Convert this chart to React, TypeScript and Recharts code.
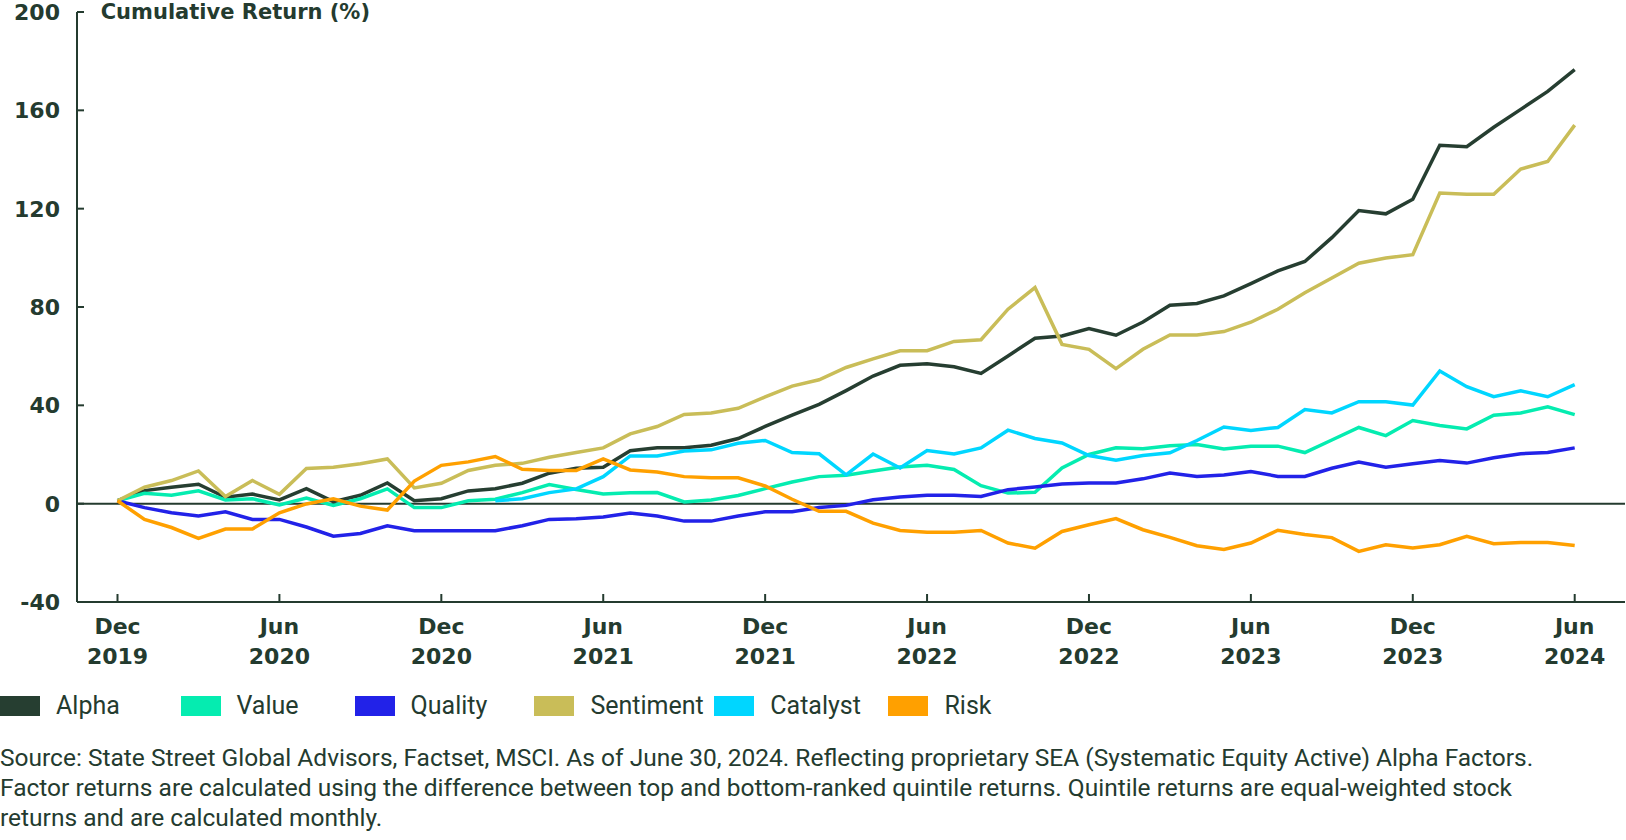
import { LineChart, Line, XAxis, YAxis, ReferenceLine } from 'recharts';

const INK = '#243b2f';

const MONTHS = [
  'Dec 2019',
  'Jan 2020', 'Feb 2020', 'Mar 2020', 'Apr 2020', 'May 2020', 'Jun 2020',
  'Jul 2020', 'Aug 2020', 'Sep 2020', 'Oct 2020', 'Nov 2020', 'Dec 2020',
  'Jan 2021', 'Feb 2021', 'Mar 2021', 'Apr 2021', 'May 2021', 'Jun 2021',
  'Jul 2021', 'Aug 2021', 'Sep 2021', 'Oct 2021', 'Nov 2021', 'Dec 2021',
  'Jan 2022', 'Feb 2022', 'Mar 2022', 'Apr 2022', 'May 2022', 'Jun 2022',
  'Jul 2022', 'Aug 2022', 'Sep 2022', 'Oct 2022', 'Nov 2022', 'Dec 2022',
  'Jan 2023', 'Feb 2023', 'Mar 2023', 'Apr 2023', 'May 2023', 'Jun 2023',
  'Jul 2023', 'Aug 2023', 'Sep 2023', 'Oct 2023', 'Nov 2023', 'Dec 2023',
  'Jan 2024', 'Feb 2024', 'Mar 2024', 'Apr 2024', 'May 2024', 'Jun 2024',
];

const ALPHA = [
  1.2, 5.3, 6.7, 7.9, 2.6, 3.9, 1.5, 6.1, 0.8, 3.4, 8.4, 1.2, 2.0,
  5.2, 6.1, 8.3, 12.4, 14.4, 14.8, 21.5, 22.7, 22.7, 23.8, 26.5, 31.4,
  36.0, 40.4, 46.0, 51.9, 56.3, 56.9, 55.7, 53.0, 60.1, 67.3, 68.2, 71.2,
  68.5, 73.9, 80.7, 81.4, 84.5, 89.5, 94.7, 98.5, 108.2, 119.2, 117.9, 123.8,
  145.8, 145.2, 153.1, 160.4, 167.7, 176.6,
];

const VALUE = [
  1.2, 4.2, 3.4, 5.2, 1.5, 2.0, -0.5, 2.3, -0.7, 2.0, 6.0, -1.6, -1.6,
  1.2, 1.8, 4.5, 7.8, 5.8, 3.9, 4.4, 4.5, 0.7, 1.5, 3.3, 6.1,
  8.8, 11.0, 11.6, 13.3, 14.9, 15.6, 13.9, 7.3, 4.3, 4.6, 14.5, 20.0,
  22.7, 22.3, 23.6, 24.1, 22.2, 23.4, 23.4, 20.8, 25.9, 31.0, 27.7, 33.8,
  31.8, 30.4, 36.0, 36.9, 39.4, 36.2,
];

const QUALITY = [
  1.2, -1.6, -3.7, -5.0, -3.3, -6.4, -6.4, -9.5, -13.2, -12.1, -9.0, -11.0, -11.0,
  -11.0, -11.0, -9.0, -6.4, -6.1, -5.4, -3.8, -5.0, -7.1, -7.1, -5.0, -3.3,
  -3.3, -1.6, -0.7, 1.6, 2.7, 3.4, 3.4, 2.9, 5.7, 6.8, 8.0, 8.4,
  8.4, 10.1, 12.5, 11.1, 11.7, 13.1, 11.1, 11.1, 14.4, 16.9, 14.8, 16.2,
  17.6, 16.5, 18.7, 20.3, 20.8, 22.7,
];

const SENTIMENT = [
  1.2, 6.7, 9.4, 13.3, 2.9, 9.4, 3.8, 14.3, 14.8, 16.2, 18.2, 6.4, 8.3,
  13.5, 15.6, 16.4, 18.9, 20.8, 22.7, 28.4, 31.4, 36.3, 36.9, 38.8, 43.4,
  47.8, 50.4, 55.4, 58.9, 62.2, 62.2, 66.0, 66.7, 79.1, 87.9, 64.8, 62.8,
  54.9, 62.8, 68.6, 68.6, 70.0, 73.8, 79.1, 85.8, 91.8, 97.8, 99.9, 101.3,
  126.4, 125.9, 125.9, 136.1, 139.2, 154.0,
];

// no catalyst history before Feb 2021
const CATALYST = [
  null, null, null, null, null, null, null, null, null, null, null, null, null,
  null, 1.2, 2.0, 4.5, 6.0, 11.0, 19.4, 19.4, 21.4, 21.9, 24.6, 25.7,
  20.8, 20.3, 11.7, 20.2, 14.5, 21.6, 20.2, 22.7, 29.9, 26.5, 24.7, 19.6,
  17.7, 19.6, 20.7, 25.7, 31.2, 29.8, 31.0, 38.3, 36.9, 41.5, 41.5, 40.1,
  54.0, 47.6, 43.5, 45.9, 43.5, 48.4,
];

const RISK = [
  1.2, -6.4, -9.7, -14.1, -10.3, -10.3, -3.7, -0.1, 2.0, -1.0, -2.6, 9.2, 15.6,
  17.0, 19.2, 14.0, 13.5, 13.5, 18.2, 13.7, 12.9, 11.0, 10.5, 10.5, 7.2,
  1.8, -3.1, -3.1, -7.9, -10.9, -11.6, -11.6, -10.9, -16.0, -18.1, -11.3, -8.6,
  -6.1, -10.6, -13.7, -17.1, -18.6, -16.0, -10.8, -12.5, -13.8, -19.4, -16.7, -18.0,
  -16.7, -13.3, -16.3, -15.8, -15.8, -17.0,
];

const Y_TICKS = [-40, 0, 40, 80, 120, 160, 200];

const SERIES = [
  { key: 'alpha', name: 'Alpha', color: '#263e31', values: ALPHA },
  { key: 'value', name: 'Value', color: '#05ecb0', values: VALUE },
  { key: 'quality', name: 'Quality', color: '#2222e8', values: QUALITY },
  { key: 'sentiment', name: 'Sentiment', color: '#c9bd58', values: SENTIMENT },
  { key: 'catalyst', name: 'Catalyst', color: '#00d6ff', values: CATALYST },
  { key: 'risk', name: 'Risk', color: '#ffa000', values: RISK },
];

const LEGEND_X = [0, 180.5, 354.6, 534.4, 714.3, 888.4];

const data = MONTHS.map((month, i) => {
  const row: Record<string, any> = { month };
  SERIES.forEach((s) => {
    row[s.key] = s.values[i];
  });
  return row;
});

const BOLD = '"DejaVu Sans", sans-serif';
const PLAIN = 'Roboto, sans-serif';

const XTick = ({ x, y, payload }: any) => {
  const [mon, yr] = String(payload.value).split(' ');
  return (
    <g>
      <line x1={x} x2={x} y1={y} y2={y - 8} stroke={INK} strokeWidth={2} />
      <text x={x} y={y + 32} textAnchor="middle" fill={INK} fontFamily={BOLD} fontWeight={700} fontSize={22}>
        {mon}
      </text>
      <text x={x} y={y + 62} textAnchor="middle" fill={INK} fontFamily={BOLD} fontWeight={700} fontSize={22}>
        {yr}
      </text>
    </g>
  );
};

const YTick = ({ x, y, payload }: any) => (
  <g>
    <line x1={x} x2={x + 7} y1={y} y2={y} stroke={INK} strokeWidth={2} />
    <text x={x - 17} y={y + 8} textAnchor="end" fill={INK} fontFamily={BOLD} fontWeight={700} fontSize={22}>
      {payload.value}
    </text>
  </g>
);

export default function App() {
  return (
    <div style={{ position: 'absolute', left: 0, top: 0, width: 1626, height: 840, background: '#fff', color: INK }}>
      <LineChart width={1626} height={670} data={data} margin={{ top: 12, right: 1, left: 0, bottom: 0 }}>
        <XAxis
          dataKey="month"
          interval={5}
          height={68}
          padding={{ left: 40.5, right: 50.3 }}
          tickSize={0}
          tickMargin={0}
          tickLine={false}
          axisLine={{ stroke: INK, strokeWidth: 2 }}
          tick={XTick}
        />
        <YAxis
          type="number"
          domain={[-40, 200]}
          ticks={Y_TICKS}
          interval={0}
          width={77}
          tickSize={0}
          tickMargin={0}
          tickLine={false}
          axisLine={{ stroke: INK, strokeWidth: 2 }}
          tick={YTick}
        />
        <ReferenceLine y={0} stroke={INK} strokeWidth={2} />
        {SERIES.map((s) => (
          <Line
            key={s.key}
            type="linear"
            dataKey={s.key}
            name={s.name}
            stroke={s.color}
            strokeWidth={3.5}
            dot={false}
            activeDot={false}
            isAnimationActive={false}
          />
        ))}
      </LineChart>

      <div
        style={{
          position: 'absolute', left: 100.7, top: 1.7, fontFamily: BOLD, fontWeight: 700,
          fontSize: 21, lineHeight: '21px', whiteSpace: 'nowrap',
        }}
      >
        Cumulative Return (%)
      </div>

      {SERIES.map((s, i) => (
        <div key={s.key} style={{ position: 'absolute', left: LEGEND_X[i], top: 696, height: 20 }}>
          <div style={{ position: 'absolute', left: 0, top: 0, width: 40, height: 20, background: s.color }} />
          <div
            style={{
              position: 'absolute', left: 56, top: 0, fontFamily: PLAIN, fontSize: 25,
              lineHeight: '20px', whiteSpace: 'nowrap',
            }}
          >
            {s.name}
          </div>
        </div>
      ))}

      <div
        style={{
          position: 'absolute', left: 0, top: 742.6, fontFamily: PLAIN, fontSize: 24.5,
          lineHeight: '30px', whiteSpace: 'nowrap',
        }}
      >
        Source: State Street Global Advisors, Factset, MSCI. As of June 30, 2024. Reflecting proprietary SEA (Systematic Equity Active) Alpha Factors.
        <br />
        Factor returns are calculated using the difference between top and bottom-ranked quintile returns. Quintile returns are equal-weighted stock
        <br />
        returns and are calculated monthly.
      </div>
    </div>
  );
}
